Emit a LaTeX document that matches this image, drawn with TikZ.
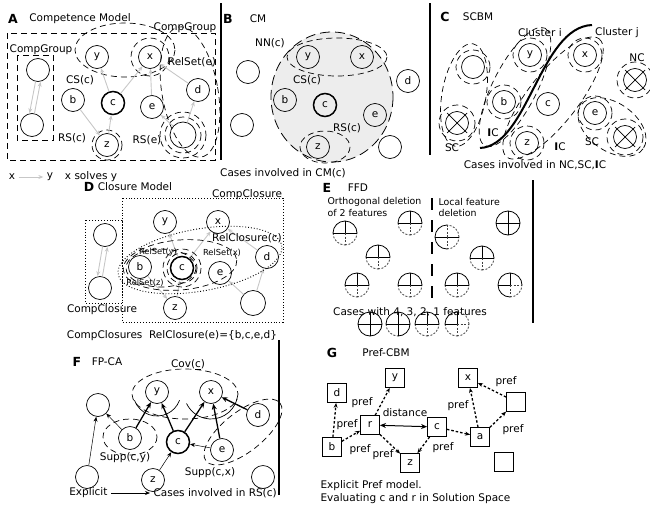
\documentclass[tikz,border=0pt]{standalone}
\usepackage{fontspec}
\setmainfont{DejaVu Sans}
\usetikzlibrary{arrows.meta}
\newcommand{\qc}[9]{%
  \begin{scope}[shift={#1}]
    \draw[#2] (12,0) arc[start angle=0,end angle=-90,radius=12];
    \draw[#3] (0,-12) arc[start angle=-90,end angle=-180,radius=12];
    \draw[#4] (-12,0) arc[start angle=180,end angle=90,radius=12];
    \draw[#5] (0,12) arc[start angle=90,end angle=0,radius=12];
    \draw[#6] (0,0) -- (12,0);
    \draw[#7] (0,0) -- (0,-12);
    \draw[#8] (0,0) -- (-12,0);
    \draw[#9] (0,0) -- (0,12);
  \end{scope}}
\begin{document}
\begin{tikzpicture}[x=1pt,y=-1pt, font=\fontsize{10.5}{11}\selectfont,
  cn/.style={circle,draw,minimum size=23pt,inner sep=0pt,line width=0.7pt},
  ck/.style={cn,line width=1.5pt},
  dsh/.style={dash pattern=on 6pt off 4pt, line width=0.7pt},
  ga/.style={draw=black!22, line width=0.9pt, -{Stealth[length=5pt,width=4pt]}},
  ba/.style={line width=1.3pt, -{Stealth[length=6pt,width=5pt]}},
  ta/.style={line width=0.5pt, -{Stealth[length=5pt,width=4pt]}},
  sq/.style={rectangle,draw,minimum size=19pt,inner sep=0pt,line width=0.8pt},
  pa/.style={line width=1.3pt, dash pattern=on 2.5pt off 2pt, -{Stealth[length=5pt,width=4pt]}},
  ttl/.style={font=\fontsize{12.5}{13}\selectfont\bfseries},
  fs/.style={draw=black, line width=0.8pt},
  fd/.style={draw=black!75, line width=0.8pt, dash pattern=on 2pt off 1.5pt},
  dotl/.style={dotted, line width=0.9pt},
  sml/.style={font=\fontsize{8.3}{9}\selectfont},
  etx/.style={font=\fontsize{9.4}{10}\selectfont},
  xline/.style={line width=0.7pt}]
\useasboundingbox (0,0) rectangle (650,514);

% ================= Panel A
\node[ttl] (tA) at (13,19) {A};
\node (nA) at (80,19) {Competence Model};
\draw[dsh] (7,33) rectangle (215,160);
\draw[dsh] (17,55) rectangle (53,140);
\node (lA1) at (185,28) {CompGroup};
\node (lA2) at (41,50) {CompGroup};
\node[cn] (Ag1) at (38,70) {};
\node[cn] (Ag2) at (32,125) {};
\node[cn] (Ay) at (97,57) {y};
\node[cn] (Ax) at (150,57) {x};
\node[cn] (Ab) at (73,100) {b};
\node[ck] (Ac) at (113,103) {c};
\node[cn] (Ae) at (152,107) {e};
\node[cn] (Ad) at (198,90) {d};
\node[cn] (Az) at (107,145) {z};
\node[cn,minimum size=26pt] (Au) at (183,135) {};
\draw[dsh] (Ax) circle [radius=19];
\draw[dsh] (Az) circle [radius=15];
\draw[dsh] (Au) circle [radius=18];
\draw[dsh] (Au) circle [radius=23];
\draw[dsh] (125,50) ellipse [x radius=50, y radius=27];
\draw[dsh, rotate around={10:(190,92)}] (190,92) ellipse [x radius=28, y radius=66];
\draw[ga] ([xshift=-2.5pt]Ag1.south) -- ([xshift=-2.5pt]Ag2.north);
\draw[ga] ([xshift=2.5pt]Ag2.north) -- ([xshift=2.5pt]Ag1.south);
\draw[ga] (Ac) -- (Ay);
\draw[ga] (Ac) -- (Ax);
\draw[ga] (Ab) -- (Az);
\draw[ga] (Az) -- (Ac);
\draw[ga] (Ae) -- (Ax);
\draw[ga] (Ad) -- (Ax);
\draw[ga] (Au) -- (Ae);
\draw[ga] (Au) -- (Ad);
\node (lCSa) at (80,80) {CS(c)};
\node (lRSe) at (192,62) {RelSet(e)};
\node (lRSc) at (72,138) {RS(c)};
\node (lRSea) at (147,140) {RS(e)};
\node (lx) at (12,177) {x};
\node (ly) at (50,177) {y};
\draw[ga] (lx) -- (ly);
\node (lsol) at (91,177) {x solves y};
\draw[line width=1.5pt] (221,3) -- (221,160);

% ================= Panel B
\node[ttl] (tB) at (228,19) {B};
\node (nB) at (258,19) {CM};
\fill[black!7] (332,97) ellipse [x radius=61, y radius=65];
\draw[dash pattern=on 10pt off 5pt, line width=0.8pt] (332,97) ellipse [x radius=61, y radius=65];
\draw[dsh] (337,57) ellipse [x radius=50, y radius=19];
\node[cn] (By) at (308,57) {y};
\node[cn] (Bx) at (362,57) {x};
\node[cn] (Bb) at (285,100) {b};
\node[ck] (Bc) at (325,105) {c};
\node[cn] (Be) at (375,115) {e};
\node[cn] (Bd) at (408,81) {d};
\node[cn] (Bl1) at (248,72) {};
\node[cn] (Bl2) at (242,125) {};
\node[cn] (Bbr) at (390,147) {};
\node[cn] (Bz) at (318,147) {z};
\draw[dsh] (325,147) ellipse [x radius=25, y radius=16];
\node (lNN) at (270,43) {NN(c)};
\node (lCSb) at (307,80) {CS(c)};
\node (lRSb) at (347,128) {RS(c)};
\node (cB) at (283,173) {Cases involved in CM(c)};
\draw[line width=1.5pt] (430,3) -- (430,155);

% ================= Panel C
\node[ttl] (tC) at (445,17) {C};
\node (nC) at (478,17) {SCBM};
\draw[line width=2pt] (480,148) .. controls (528,146) and (540,27) .. (592,25);
\node (lci) at (540,33) {Cluster i};
\node (lcj) at (617,33) {Cluster j};
\node[cn] (Cy) at (530,55) {y};
\node[cn] (Cx) at (585,55) {x};
\node[cn] (Cb) at (504,102) {b};
\node[cn] (Cc) at (548,104) {c};
\node[cn] (Cz) at (527,143) {z};
\node[cn] (Ce) at (595,113) {e};
\node[cn] (Cp) at (473,67) {};
\node[cn] (Cn1) at (457,123) {};
\node[cn] (Cn2) at (635,80) {};
\node[cn] (Cn3) at (625,137) {};
\foreach \n in {Cn1,Cn2,Cn3}{
  \draw[xline] ([shift={(-10,-10)}]\n.center) -- ([shift={(10,10)}]\n.center);
  \draw[xline] ([shift={(10,-10)}]\n.center) -- ([shift={(-10,10)}]\n.center);
  \draw[dsh] (\n) circle [radius=18];}
\foreach \n in {Cy,Cx,Cb,Cz,Ce,Cp}{\draw[dsh] (\n) circle [radius=17];}
\draw[dsh, rotate around={-10:(464,95)}] (464,95) ellipse [x radius=22, y radius=52];
\draw[dsh, rotate around={63:(515,87)}] (515,87) ellipse [x radius=66, y radius=22];
\draw[dsh, rotate around={52:(553,98)}] (553,98) ellipse [x radius=75, y radius=25];
\draw[dsh, rotate around={-35:(612,127)}] (612,127) ellipse [x radius=38, y radius=24];
\node (lNC) at (637,58) {NC};
\node (lIC1) at (493,133) {\textbf{I}C};
\node (lIC2) at (560,147) {\textbf{I}C};
\node (lSC1) at (452,148) {SC};
\node (lSC2) at (592,142) {SC};
\node (cC) at (535,165) {Cases involved in NC,SC,\textbf{I}C};

% ================= Panel D
\node[ttl] (tD) at (89,187) {D};
\node (nD) at (135,187) {Closure Model};
\draw[dotl] (122,198) rectangle (283,322);
\draw[dotl] (85,220) rectangle (122,303);
\node (lCC1) at (247,195) {CompClosure};
\node (lCC2) at (102,310) {CompClosure};
\node[cn] (Dl1) at (105,235) {};
\node[cn] (Dl2) at (100,288) {};
\node[cn] (Dy) at (165,222) {y};
\node[cn] (Dx) at (218,222) {x};
\node[cn] (Db) at (140,267) {b};
\node[ck] (Dc) at (182,268) {c};
\node[cn] (De) at (220,273) {e};
\node[cn] (Dd) at (267,257) {d};
\node[cn] (Dz) at (175,308) {z};
\node[cn,minimum size=25pt] (Du) at (253,303) {};
\draw[ga] ([xshift=-2.5pt]Dl1.south) -- ([xshift=-2.5pt]Dl2.north);
\draw[ga] ([xshift=2.5pt]Dl2.north) -- ([xshift=2.5pt]Dl1.south);
\draw[ga] (Dc) -- (Dy);
\draw[ga] (Dc) -- (Dx);
\draw[ga] (Dd) -- (Dx);
\draw[ga] (Db) -- (Dz);
\draw[ga] (Dz) -- (Dc);
\draw[ga] (Du) -- (De);
\draw[ga] (Du) -- (Dd);
\draw[dotl, rotate around={10:(200,260)}] (200,260) ellipse [x radius=83, y radius=31];
\draw[dsh, rotate around={5:(180,265)}] (180,265) ellipse [x radius=57, y radius=25];
\draw[dsh] (Dc) circle [radius=15];
\draw[dsh] (Dc) circle [radius=19];
\draw[dsh] (161,268) ellipse [x radius=35, y radius=19];
\node[sml] (lRy) at (158,252) {RelSet(y)};
\node[sml] (lRx) at (222,253) {RelSet(x)};
\node[sml] (lRz) at (145,283) {RelSet(z)};
\node (lRC) at (247,238) {RelClosure(c)};
\node (cD) at (172,336) {CompClosures\ \ RelClosure(e)=\{b,c,e,d\}};

% ================= Panel E
\node[ttl] (tE) at (327,188) {E};
\node (nE) at (358,188) {FFD};
\node[etx,anchor=west] (lO1) at (324,202) {Orthogonal deletion};
\node[etx,anchor=west] (lO2) at (324,213) {of 2 features};
\node[etx,anchor=west] (lL1) at (435,202) {Local feature};
\node[etx,anchor=west] (lL2) at (435,213) {deletion};
\draw[line width=1.3pt, dash pattern=on 12pt off 10pt] (432,198) -- (432,303);
\draw[line width=1.5pt] (533,180) -- (533,323);
\foreach \px/\py in {410/223,345/233,378/257,357/285,410/285,482/258,457/285}{
  \qc{(\px,\py)}{fs}{fs}{fd}{fd}{fs}{fs}{fs}{fd}}
\qc{(447,237)}{fd}{fs}{fs}{fd}{fs}{fd}{fs}{fd}
\qc{(508,223)}{fs}{fs}{fs}{fs}{fs}{fs}{fs}{fs}
\qc{(510,285)}{fs}{fs}{fs}{fd}{fd}{fs}{fs}{fd}
\node (lE4) at (410,312) {Cases with 4, 3, 2, 1 features};
\qc{(370,324)}{fs}{fs}{fs}{fs}{fs}{fs}{fs}{fs}
\qc{(398,324)}{fs}{fs}{fd}{fs}{fs}{fs}{fs}{fs}
\qc{(427,324)}{fs}{fs}{fd}{fd}{fs}{fs}{fs}{fd}
\qc{(457,324)}{fd}{fs}{fd}{fd}{fd}{fs}{fs}{fd}

% ================= Panel F
\node[ttl] (tF) at (77,362) {F};
\node (nF) at (107,362) {FP-CA};
\draw[line width=1.5pt] (279,340) -- (279,495);
\node[cn] (Fy) at (157,392) {y};
\node[cn] (Fx) at (211,392) {x};
\node[cn] (Fd) at (258,415) {d};
\node[cn] (Fb) at (130,438) {b};
\node[ck] (Fc) at (178,442) {c};
\node[cn] (Fe) at (222,450) {e};
\node[cn] (Fz) at (153,480) {z};
\node[cn] (Ftl) at (98,405) {};
\node[cn] (Fbl) at (87,477) {};
\node[cn] (Fbr) at (263,477) {};
\draw[dsh] (185,394) ellipse [x radius=53, y radius=25];
\draw[dsh] (130,437) ellipse [x radius=27, y radius=18];
\draw[dsh, rotate around={38:(243,432)}] (243,432) ellipse [x radius=47, y radius=20];
\draw[line width=0.7pt] ([shift={(20:24)}]Fy.center) arc[start angle=20, end angle=160, radius=24];
\draw[line width=0.7pt] ([shift={(15:27)}]Fx.center) arc[start angle=15, end angle=155, radius=27];
\draw[ba] (Fb) -- (Fy);
\draw[ba] (Fc) -- (Fy);
\draw[ba] (Fc) -- (Fx);
\draw[ba] (Fe) -- (Fx);
\draw[ba] (Fd) -- (Fx);
\draw[ta] (Fb) -- (Ftl);
\draw[ta] (Fbl) -- (Ftl);
\draw[ta] (Fz) -- (Fc);
\draw[ta] (Fe) -- (Fc);
\node (lCov) at (188,365) {Cov(\underline{c})};
\node (lSy) at (125,458) {Supp(c,y)};
\node (lSx) at (210,473) {Supp(c,x)};
\node[anchor=east] (lExp) at (111,493) {Explicit};
\node[anchor=west] (lCas) at (150,493) {Cases involved in RS(c)};
\draw[ta, line width=0.7pt] (lExp) -- (lCas);

% ================= Panel G
\node[ttl] (tG) at (332,353) {G};
\node (nG) at (386,353) {Pref-CBM};
\node[sq] (Gy) at (395,378) {y};
\node[sq] (Gd) at (337,393) {d};
\node[sq] (Gr) at (370,425) {r};
\node[sq] (Gb) at (332,447) {b};
\node[sq] (Gz) at (410,463) {z};
\node[sq] (Gc) at (437,427) {c};
\node[sq] (Ga) at (480,437) {a};
\node[sq] (Gx) at (468,378) {x};
\node[sq] (Gtr) at (516,402) {};
\node[sq] (Gbr) at (504,462) {};
\draw[pa] (Gb) -- (Gd);
\draw[pa] (Gb) -- (Gr);
\draw[pa] (Gr) -- (Gy);
\draw[pa] (Gr) -- (Gz);
\draw[pa] (Gc) -- (Gz);
\draw[pa] (Gc) -- (Ga);
\draw[pa] (Ga) -- (Gx);
\draw[pa] (Ga) -- (Gtr);
\draw[pa] (Gtr) -- (Gx);
\draw[line width=1pt, {Stealth[length=6pt,width=5pt]}-{Stealth[length=6pt,width=5pt]}] (Gr) -- (Gc);
\node (pBD) at (347,425) {pref};
\node (pBR) at (360,450) {pref};
\node (pRY) at (362,403) {pref};
\node (pRZ) at (383,455) {pref};
\node (pCZ) at (443,448) {pref};
\node (pAX) at (458,406) {pref};
\node (pAT) at (513,430) {pref};
\node (pTX) at (506,382) {pref};
\node (pDist) at (405,413) {distance};
\node[anchor=west] (lG1) at (317,486) {Explicit Pref model.};
\node[anchor=west] (lG2) at (317,499) {Evaluating c and r in Solution Space};
\end{tikzpicture}
\end{document}
